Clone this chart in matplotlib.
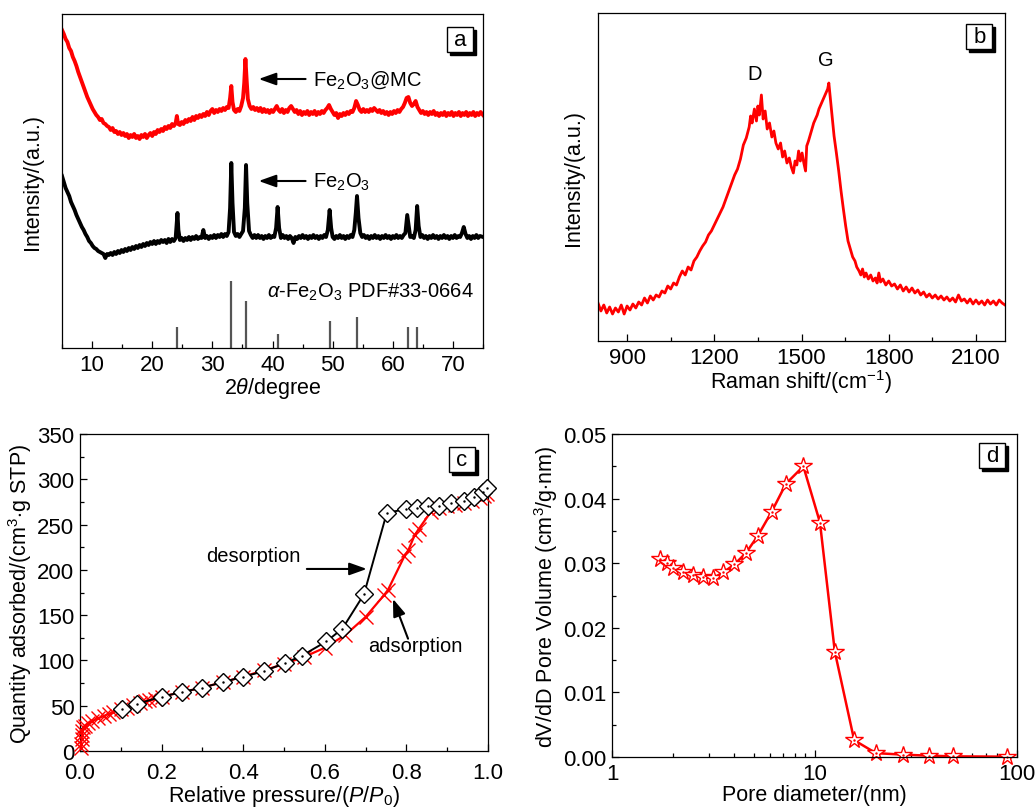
import numpy as np
import matplotlib
matplotlib.use('Agg')
import matplotlib.pyplot as plt
from matplotlib.patches import Rectangle
from matplotlib.ticker import MultipleLocator, FormatStrFormatter, NullFormatter, LogLocator

plt.rcParams['font.family'] = ['Liberation Sans', 'DejaVu Sans']
plt.rcParams['mathtext.fontset'] = 'custom'
plt.rcParams['mathtext.rm'] = 'Liberation Sans'
plt.rcParams['mathtext.it'] = 'Liberation Sans:italic'
plt.rcParams['mathtext.bf'] = 'Liberation Sans:bold'
plt.rcParams['font.size'] = 15

# ---- panel a: XRD (2theta, intensity a.u.) ----
mc_xrd = [
    (5.0, 318), (5.3, 314), (5.6, 309), (5.9, 306), (6.2, 300), (6.5, 297), (6.8, 291), (7.1, 287),
    (7.4, 282), (7.7, 276), (8.0, 271), (8.3, 266), (8.6, 261), (8.9, 256), (9.2, 251), (9.5, 247),
    (9.8, 243), (10.1, 239), (10.4, 236), (10.7, 233), (11.0, 231), (11.3, 228), (11.6, 229), (11.9, 225),
    (12.2, 224), (12.5, 222), (12.8, 221), (13.1, 218), (13.4, 220), (13.7, 216), (14.0, 217), (14.3, 214),
    (14.6, 216), (14.9, 213), (15.2, 215), (15.5, 212), (15.8, 214), (16.1, 210), (16.4, 213), (16.7, 211),
    (17.0, 214), (17.3, 210), (17.6, 212), (17.9, 209), (18.2, 213), (18.5, 211), (18.8, 214), (19.1, 210),
    (19.4, 213), (19.7, 215), (20.0, 212), (20.3, 216), (20.6, 214), (20.9, 218), (21.2, 216), (21.5, 219),
    (21.8, 217), (22.1, 221), (22.4, 219), (22.7, 222), (23.0, 220), (23.3, 224), (23.6, 222), (23.9, 225),
    (24.1, 232), (24.3, 224), (24.6, 223), (24.9, 226), (25.2, 224), (25.5, 228), (25.8, 226), (26.1, 229),
    (26.4, 227), (26.7, 231), (27.0, 228), (27.3, 232), (27.6, 230), (27.9, 233), (28.2, 231), (28.5, 234),
    (28.8, 232), (29.1, 236), (29.4, 233), (29.7, 237), (30.0, 239), (30.3, 235), (30.6, 238), (30.9, 236),
    (31.2, 239), (31.5, 237), (31.8, 240), (32.1, 238), (32.4, 241), (32.7, 240), (32.95, 250), (33.15, 262),
    (33.35, 246), (33.6, 238), (33.9, 236), (34.2, 239), (34.5, 237), (34.8, 242), (35.1, 250), (35.3, 265),
    (35.5, 289), (35.7, 268), (35.9, 249), (36.2, 242), (36.5, 239), (36.8, 241), (37.1, 238), (37.4, 240),
    (37.7, 237), (38.0, 240), (38.3, 236), (38.6, 239), (38.9, 236), (39.2, 238), (39.5, 235), (39.8, 238),
    (40.1, 236), (40.4, 239), (40.7, 242), (41.0, 238), (41.3, 236), (41.6, 239), (41.9, 235), (42.2, 238),
    (42.5, 236), (42.8, 240), (43.1, 242), (43.4, 239), (43.7, 236), (44.0, 238), (44.3, 234), (44.6, 237),
    (44.9, 233), (45.2, 236), (45.5, 234), (45.8, 237), (46.1, 233), (46.4, 236), (46.7, 234), (47.0, 237),
    (47.3, 233), (47.6, 236), (47.9, 234), (48.2, 237), (48.5, 235), (48.8, 238), (49.1, 240), (49.4, 243),
    (49.7, 239), (50.0, 236), (50.3, 233), (50.6, 235), (50.9, 230), (51.2, 234), (51.5, 232), (51.8, 235),
    (52.1, 233), (52.4, 236), (52.7, 234), (53.0, 237), (53.3, 236), (53.6, 240), (53.9, 247), (54.2, 243),
    (54.5, 238), (54.8, 236), (55.1, 239), (55.4, 236), (55.7, 238), (56.0, 236), (56.3, 239), (56.6, 237),
    (56.9, 240), (57.2, 238), (57.5, 236), (57.8, 238), (58.1, 235), (58.4, 237), (58.7, 234), (59.0, 236),
    (59.3, 233), (59.6, 236), (59.9, 234), (60.2, 237), (60.5, 235), (60.8, 238), (61.1, 236), (61.4, 239),
    (61.7, 241), (62.0, 245), (62.3, 250), (62.6, 251), (62.9, 245), (63.2, 242), (63.5, 244), (63.8, 247),
    (64.1, 241), (64.4, 238), (64.7, 235), (65.0, 237), (65.3, 234), (65.6, 236), (65.9, 233), (66.2, 236),
    (66.5, 234), (66.8, 237), (67.1, 233), (67.4, 235), (67.7, 232), (68.0, 235), (68.3, 233), (68.6, 236),
    (68.9, 232), (69.2, 235), (69.5, 233), (69.8, 236), (70.1, 232), (70.4, 235), (70.7, 233), (71.0, 236),
    (71.3, 232), (71.6, 235), (71.9, 233), (72.2, 236), (72.5, 232), (72.8, 235), (73.1, 233), (73.4, 236),
    (73.7, 232), (74.0, 235), (74.3, 233), (74.6, 236), (75.0, 233),
]

fe_xrd = [
    (5.0, 172), (5.3, 166), (5.6, 160), (5.9, 156), (6.2, 152), (6.5, 146), (6.8, 142), (7.1, 138),
    (7.4, 133), (7.7, 129), (8.0, 125), (8.3, 121), (8.6, 118), (8.9, 114), (9.2, 111), (9.5, 107),
    (9.8, 105), (10.1, 102), (10.4, 100), (10.7, 99), (11.0, 97), (11.3, 96), (11.6, 95), (11.9, 94),
    (12.2, 90), (12.5, 94), (12.8, 93), (13.1, 95), (13.4, 93), (13.7, 96), (14.0, 94), (14.3, 97),
    (14.6, 95), (14.9, 98), (15.2, 96), (15.5, 99), (15.8, 97), (16.1, 100), (16.4, 98), (16.7, 101),
    (17.0, 99), (17.3, 102), (17.6, 100), (17.9, 103), (18.2, 101), (18.5, 104), (18.8, 102), (19.1, 105),
    (19.4, 103), (19.7, 106), (20.0, 104), (20.3, 107), (20.6, 104), (20.9, 107), (21.2, 105), (21.5, 108),
    (21.8, 106), (22.1, 108), (22.4, 105), (22.7, 109), (23.0, 106), (23.3, 109), (23.6, 107), (23.9, 110),
    (24.05, 122), (24.2, 135), (24.35, 118), (24.6, 108), (24.9, 110), (25.2, 107), (25.5, 110), (25.8, 108),
    (26.1, 111), (26.4, 108), (26.7, 111), (27.0, 109), (27.3, 112), (27.6, 109), (27.9, 111), (28.2, 110),
    (28.5, 118), (28.8, 110), (29.1, 112), (29.4, 109), (29.7, 112), (30.0, 110), (30.3, 113), (30.6, 110),
    (30.9, 113), (31.2, 111), (31.5, 114), (31.8, 111), (32.1, 114), (32.4, 112), (32.7, 116), (32.95, 140),
    (33.15, 185), (33.35, 145), (33.6, 116), (33.9, 112), (34.2, 114), (34.5, 111), (34.8, 114), (35.1, 117),
    (35.4, 140), (35.6, 183), (35.8, 145), (36.1, 117), (36.4, 113), (36.7, 110), (37.0, 113), (37.3, 110),
    (37.6, 113), (37.9, 110), (38.2, 112), (38.5, 109), (38.8, 112), (39.1, 110), (39.4, 113), (39.7, 110),
    (40.0, 112), (40.3, 111), (40.6, 120), (40.85, 141), (41.1, 120), (41.4, 110), (41.7, 113), (42.0, 110),
    (42.3, 112), (42.6, 109), (42.9, 112), (43.2, 110), (43.5, 105), (43.8, 111), (44.1, 109), (44.4, 112),
    (44.7, 110), (45.0, 113), (45.3, 110), (45.6, 112), (45.9, 109), (46.2, 112), (46.5, 110), (46.8, 113),
    (47.1, 110), (47.4, 112), (47.7, 109), (48.0, 112), (48.3, 110), (48.6, 113), (48.9, 111), (49.2, 118),
    (49.5, 138), (49.75, 120), (50.0, 111), (50.3, 109), (50.6, 112), (50.9, 110), (51.2, 113), (51.5, 110),
    (51.8, 112), (52.1, 109), (52.4, 112), (52.7, 110), (53.0, 113), (53.3, 111), (53.6, 118), (53.85, 135),
    (54.05, 152), (54.3, 130), (54.6, 115), (54.9, 111), (55.2, 113), (55.5, 110), (55.8, 112), (56.1, 109),
    (56.4, 112), (56.7, 110), (57.0, 113), (57.3, 110), (57.6, 112), (57.9, 109), (58.2, 112), (58.5, 110),
    (58.8, 113), (59.1, 110), (59.4, 112), (59.7, 109), (60.0, 112), (60.3, 110), (60.6, 113), (60.9, 110),
    (61.2, 112), (61.5, 110), (61.8, 113), (62.1, 115), (62.4, 133), (62.65, 122), (62.9, 111), (63.2, 112),
    (63.5, 110), (63.8, 118), (64.05, 142), (64.3, 122), (64.6, 111), (64.9, 113), (65.2, 110), (65.5, 112),
    (65.8, 109), (66.1, 112), (66.4, 110), (66.7, 113), (67.0, 110), (67.3, 112), (67.6, 109), (67.9, 112),
    (68.2, 110), (68.5, 113), (68.8, 110), (69.1, 112), (69.4, 109), (69.7, 112), (70.0, 110), (70.3, 113),
    (70.6, 110), (70.9, 112), (71.2, 111), (71.5, 115), (71.8, 121), (72.1, 114), (72.4, 110), (72.7, 112),
    (73.0, 109), (73.3, 112), (73.6, 110), (73.9, 113), (74.2, 110), (74.5, 112), (75.0, 111),
]

pdf_pos = [24.15, 33.15, 35.61, 40.85, 49.48, 54.09, 62.45, 64.0]
pdf_int = [21, 67, 47, 14, 27, 31, 21, 21]

# ---- panel b: Raman ----
raman = [
    (800, 38), (810, 30), (820, 36), (830, 28), (840, 34), (850, 27), (860, 33), (870, 29), (880, 36),
    (890, 27), (900, 35), (910, 31), (920, 37), (930, 33), (940, 39), (950, 36), (960, 43), (970, 38),
    (980, 45), (990, 41), (1000, 46), (1010, 44), (1020, 50), (1030, 48), (1040, 55), (1050, 52),
    (1060, 58), (1070, 56), (1080, 64), (1090, 70), (1100, 66), (1110, 74), (1120, 71), (1130, 80),
    (1140, 84), (1150, 90), (1160, 95), (1170, 99), (1180, 106), (1190, 110), (1200, 116), (1210, 122),
    (1220, 128), (1230, 134), (1240, 142), (1250, 150), (1260, 158), (1270, 166), (1280, 172), (1290, 182),
    (1300, 196), (1310, 203), (1320, 214), (1325, 225), (1330, 218), (1338, 232), (1345, 220), (1350, 235),
    (1355, 226), (1362, 246), (1368, 222), (1375, 230), (1382, 212), (1390, 218), (1398, 204), (1405, 210),
    (1412, 198), (1420, 192), (1428, 198), (1435, 184), (1442, 190), (1450, 178), (1458, 183), (1465, 174),
    (1472, 168), (1478, 180), (1484, 176), (1490, 190), (1496, 180), (1502, 188), (1508, 178), (1514, 170),
    (1518, 195), (1524, 200), (1530, 206), (1536, 212), (1542, 218), (1548, 222), (1554, 226), (1560, 232),
    (1566, 236), (1572, 240), (1578, 244), (1584, 248), (1590, 252), (1594, 258), (1600, 240), (1606, 222),
    (1612, 205), (1620, 188), (1628, 170), (1636, 150), (1644, 132), (1652, 115), (1660, 100), (1668, 92),
    (1676, 84), (1684, 80), (1690, 74), (1698, 70), (1704, 66), (1710, 72), (1716, 64), (1722, 68),
    (1730, 62), (1738, 66), (1746, 60), (1754, 63), (1760, 58), (1766, 68), (1772, 59), (1780, 62),
    (1790, 56), (1800, 60), (1810, 55), (1820, 57), (1830, 52), (1840, 56), (1850, 50), (1860, 54),
    (1870, 49), (1880, 53), (1890, 48), (1900, 51), (1910, 46), (1920, 49), (1930, 44), (1940, 47),
    (1950, 43), (1960, 46), (1970, 42), (1980, 45), (1990, 41), (2000, 44), (2010, 40), (2020, 43),
    (2030, 39), (2040, 46), (2050, 40), (2060, 42), (2070, 38), (2080, 42), (2090, 37), (2100, 41),
    (2110, 37), (2120, 40), (2130, 36), (2140, 41), (2150, 37), (2160, 40), (2170, 36), (2180, 41),
    (2190, 38), (2200, 36),
]

# ---- panel c: N2 isotherm ----
ads_p = [0.002, 0.003, 0.004, 0.005, 0.006, 0.008, 0.012, 0.02, 0.03, 0.045, 0.06, 0.07, 0.082, 0.1,
         0.114, 0.13, 0.147, 0.16, 0.17, 0.184, 0.2, 0.25, 0.3, 0.35, 0.4, 0.45, 0.5, 0.55, 0.6, 0.65,
         0.7, 0.745, 0.755, 0.795, 0.805, 0.82, 0.83, 0.86, 0.88, 0.9, 0.92, 0.94, 0.96, 0.98, 0.99, 0.998]
ads_q = [3, 8, 13, 18, 22, 26, 28, 31, 33, 36, 39, 41, 43, 46,
         48, 51, 53, 55, 56, 57, 60, 65, 70, 76, 82, 89, 96, 104, 114, 128,
         148, 172, 178, 215, 222, 238, 245, 264, 268, 270, 272, 274, 276, 279, 281, 284]
des_p = [0.103, 0.14, 0.2, 0.25, 0.3, 0.35, 0.4, 0.45, 0.502, 0.543, 0.604, 0.643, 0.696, 0.752,
         0.799, 0.825, 0.852, 0.88, 0.91, 0.94, 0.966, 0.987, 0.997]
des_q = [46, 52, 60, 65, 70, 76, 82, 88, 97, 105, 121, 135, 173, 263,
         267, 268, 270, 271, 274, 276, 280, 286, 290]

# ---- panel d: pore size distribution ----
pore_d = [1.73, 1.86, 1.99, 2.23, 2.50, 2.80, 3.16, 3.55, 4.02, 4.59, 5.24, 6.15, 7.23, 8.81,
          10.64, 12.6, 15.7, 20.1, 27.5, 36.9, 48.5, 88.9]
pore_v = [0.0306, 0.0301, 0.0292, 0.0287, 0.0282, 0.0278, 0.0277, 0.0286, 0.0298, 0.0316, 0.0342,
          0.0380, 0.0423, 0.0450, 0.0363, 0.0163, 0.0026, 0.0006, 0.00036, 0.0002, 0.0001, 0.00005]


W, H = 1035, 812
fig = plt.figure(figsize=(W / 100, H / 100), dpi=100)
TICK_FS = 16
LABEL_FS = 15.5
NOTE_FS = 14.5


def px_axes(l, t, r, b):
    return fig.add_axes([l / W, 1 - b / H, (r - l) / W, (b - t) / H])


def style(ax):
    ax.tick_params(which='both', direction='in', top=False, right=False, labelsize=TICK_FS)
    ax.tick_params(which='major', length=5, width=0.9, pad=4)
    ax.tick_params(which='minor', length=3, width=0.9)
    for s in ax.spines.values():
        s.set_linewidth(0.9)


def tag(ax, letter, cx, cy):
    pos = ax.get_position()
    aw = pos.width * W
    ah = pos.height * H
    w, h = 26 / aw, 25 / ah
    ax.add_patch(Rectangle((cx - w / 2 + 3 / aw, cy - h / 2 - 3 / ah), w, h, transform=ax.transAxes,
                           fc='black', ec='black', lw=1, zorder=5, clip_on=False))
    ax.add_patch(Rectangle((cx - w / 2, cy - h / 2), w, h, transform=ax.transAxes,
                           fc='white', ec='black', lw=1, zorder=6, clip_on=False))
    ax.text(cx, cy, letter, transform=ax.transAxes, ha='center', va='center', fontsize=16, zorder=7)


def arrow(ax, head, tail):
    ax.annotate('', xy=head, xytext=tail,
                arrowprops=dict(arrowstyle='-|>,head_length=0.7,head_width=0.25', color='black',
                                lw=1.5, shrinkA=0, shrinkB=0))


# panel a
ax = px_axes(62, 15, 483, 349)
style(ax)
mc = np.array(mc_xrd)
fe = np.array(fe_xrd)
ax.plot(mc[:, 0], mc[:, 1], color='#ff0000', lw=2.8)
ax.plot(fe[:, 0], fe[:, 1], color='black', lw=2.8)
ax.vlines(pdf_pos, 0, pdf_int, color='#555555', lw=1.6)
ax.set_xlim(5, 75)
ax.set_ylim(0, 334)
ax.set_yticks([])
ax.xaxis.set_major_locator(MultipleLocator(10))
ax.xaxis.set_minor_locator(MultipleLocator(5))
ax.set_xlabel(r'2$\theta$/degree', fontsize=LABEL_FS, labelpad=0)
ax.set_ylabel('Intensity/(a.u.)', fontsize=LABEL_FS, labelpad=14)
arrow(ax, (37.7, 269), (45.5, 269))
ax.text(46.8, 269, r'Fe$_2$O$_3$@MC', fontsize=NOTE_FS, va='center')
arrow(ax, (37.7, 167), (45.5, 167))
ax.text(46.8, 167, r'Fe$_2$O$_3$', fontsize=NOTE_FS, va='center')
ax.text(73.4, 57, r'$\alpha$-Fe$_2$O$_3$ PDF#33-0664', fontsize=NOTE_FS, va='center', ha='right')
tag(ax, 'a', 0.945, 0.925)

# panel b
ax = px_axes(598, 14, 1005, 342)
style(ax)
rm = np.array(raman)
ax.plot(rm[:, 0], rm[:, 1], color='#ff0000', lw=2.0)
ax.set_xlim(800, 2200)
ax.set_ylim(0, 328)
ax.set_yticks([])
ax.xaxis.set_major_locator(MultipleLocator(300))
ax.xaxis.set_minor_locator(MultipleLocator(150))
ax.set_xlabel(r'Raman shift/(cm$^{-1}$)', fontsize=LABEL_FS, labelpad=0)
ax.set_ylabel('Intensity/(a.u.)', fontsize=LABEL_FS, labelpad=10)
ax.text(1340, 267, 'D', fontsize=NOTE_FS, ha='center', va='center')
ax.text(1585, 281, 'G', fontsize=NOTE_FS, ha='center', va='center')
tag(ax, 'b', 0.937, 0.927)

# panel c
ax = px_axes(80, 435, 488, 752)
style(ax)
ax.tick_params(axis='x', which='major', pad=8)
ax.plot(ads_p, ads_q, color='#ff0000', lw=1.6, marker='x', ms=10, mew=1.0, clip_on=False, zorder=3)
ax.plot(des_p, des_q, color='black', lw=1.4, marker='D', ms=9, mfc='white', mec='black', mew=1.0,
        clip_on=False, zorder=4)
ax.plot(des_p, des_q, ls='none', marker='.', ms=1.5, color='black', zorder=5, clip_on=False)
ax.set_xlim(0, 1.0)
ax.set_ylim(0, 350)
ax.xaxis.set_major_locator(MultipleLocator(0.2))
ax.xaxis.set_minor_locator(MultipleLocator(0.1))
ax.yaxis.set_major_locator(MultipleLocator(50))
ax.yaxis.set_minor_locator(MultipleLocator(25))
ax.xaxis.set_major_formatter(FormatStrFormatter('%.1f'))
ax.set_xlabel(r'Relative pressure/($P$/$P_0$)', fontsize=LABEL_FS, labelpad=0)
ax.set_ylabel(r'Quantity adsorbed/(cm$^3$$\cdot$g STP)', fontsize=LABEL_FS, labelpad=2)
arrow(ax, (0.703, 201), (0.556, 201))
ax.text(0.424, 216, 'desorption', fontsize=NOTE_FS, ha='center', va='center')
arrow(ax, (0.767, 168), (0.804, 124))
ax.text(0.821, 116, 'adsorption', fontsize=NOTE_FS, ha='center', va='center')
tag(ax, 'c', 0.936, 0.921)

# panel d
ax = px_axes(612, 435, 1017, 758)
style(ax)
ax.plot(pore_d, pore_v, color='#ff0000', lw=1.8, marker='*', ms=13, mfc='white', mec='#ff0000',
        mew=1.0, clip_on=False)
ax.plot(pore_d, pore_v, ls='none', marker='.', ms=1.5, color='#ff0000', clip_on=False)
ax.set_xscale('log')
ax.set_xlim(1, 100)
ax.set_ylim(0, 0.05)
ax.set_xticks([1, 10, 100])
ax.set_xticklabels(['1', '10', '100'])
ax.xaxis.set_minor_locator(LogLocator(base=10, subs=np.arange(2, 10)))
ax.xaxis.set_minor_formatter(NullFormatter())
ax.yaxis.set_major_locator(MultipleLocator(0.01))
ax.yaxis.set_minor_locator(MultipleLocator(0.005))
ax.yaxis.set_major_formatter(FormatStrFormatter('%.2f'))
ax.set_xlabel('Pore diameter/(nm)', fontsize=LABEL_FS, labelpad=0)
ax.set_ylabel(r'dV/dD Pore Volume (cm$^3$/g$\cdot$nm)', fontsize=LABEL_FS, labelpad=2)
tag(ax, 'd', 0.938, 0.932)

fig.savefig('out.png', dpi=100)
